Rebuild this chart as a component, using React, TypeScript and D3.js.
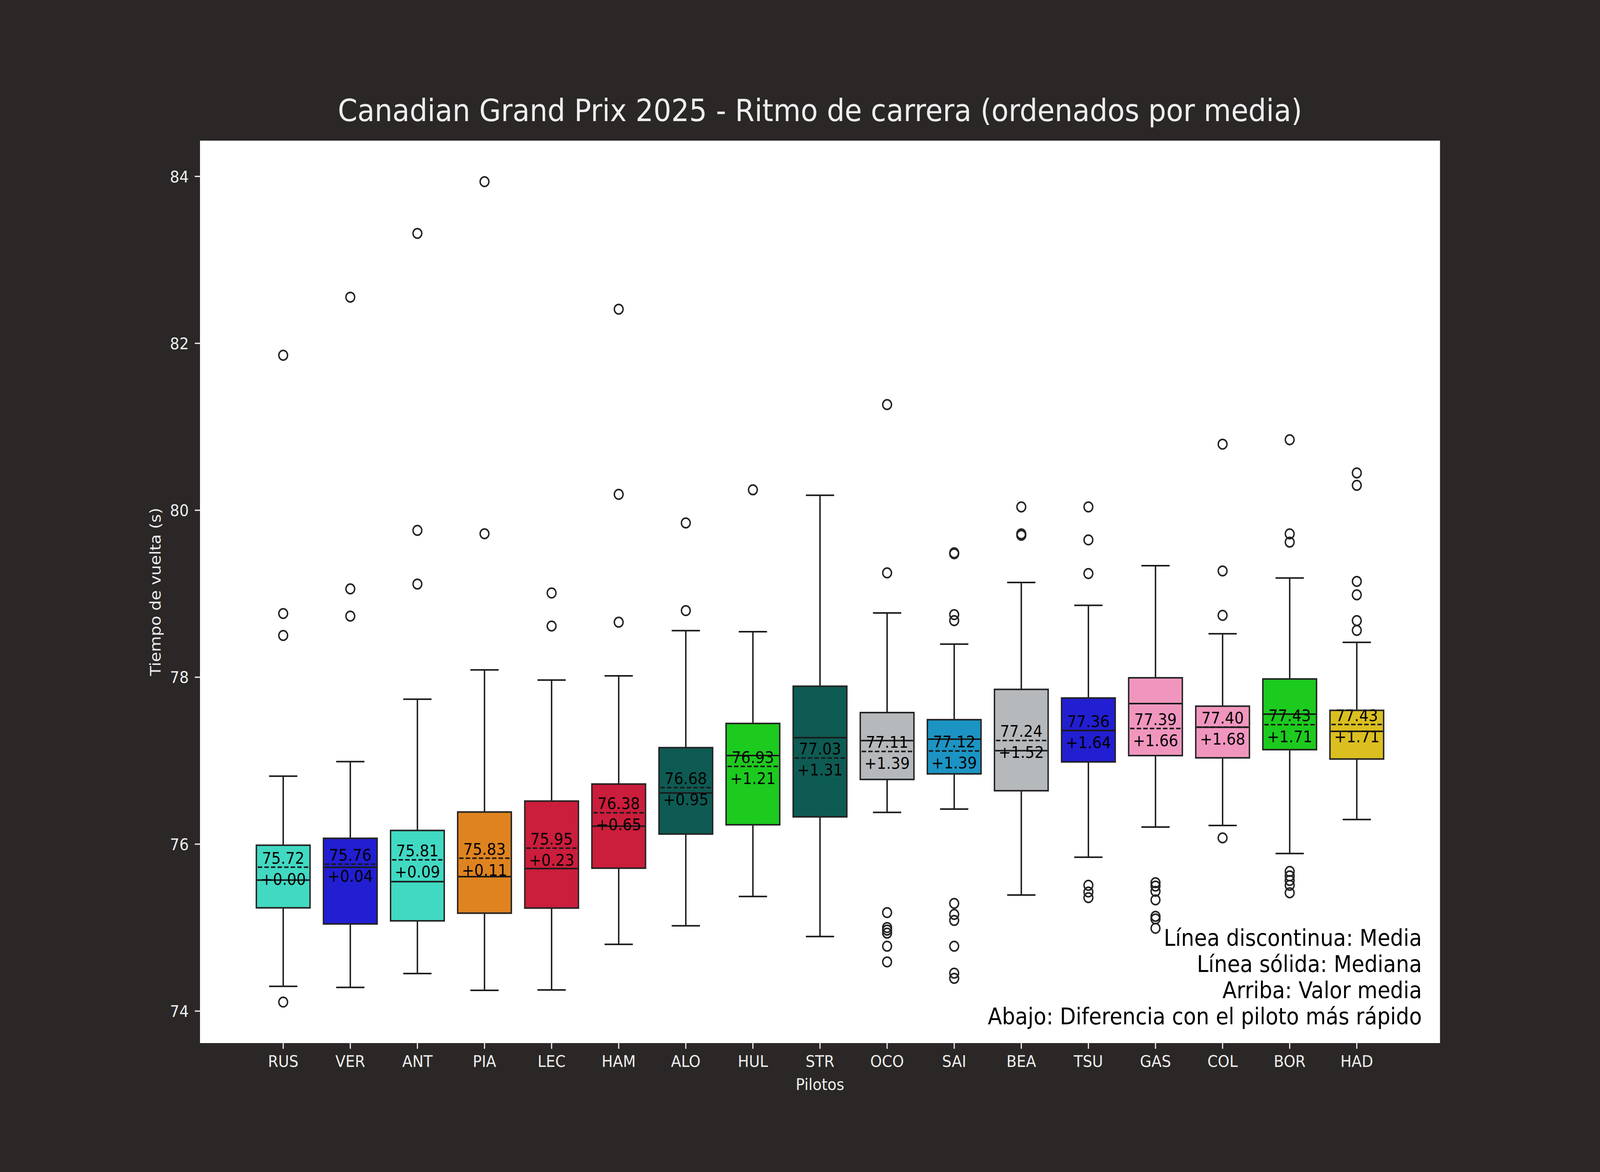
import * as d3 from "d3"

// Pilotos ordenados por media
const pilotos = ["RUS", "VER", "ANT", "PIA", "LEC", "HAM", "ALO", "HUL", "STR", "OCO", "SAI", "BEA", "TSU", "GAS", "COL", "BOR", "HAD"]

const colores = [
  "#41d9c2", "#221ed1", "#41d9c2", "#df8320", "#cb1d3c", "#cb1d3c", "#0e5b53", "#1dca1e", "#0e5b53",
  "#b6b9bc", "#1c94c3", "#b6b9bc", "#221ed1", "#f096be", "#f096be", "#1dca1e", "#dbbf20",
]

const q1 = [75.237, 75.044, 75.081, 75.173, 75.234, 75.712, 76.121, 76.232, 76.327, 76.775, 76.842, 76.64, 76.985, 77.061, 77.034, 77.132, 77.02]
const q3 = [75.987, 76.07, 76.164, 76.385, 76.516, 76.72, 77.156, 77.446, 77.892, 77.576, 77.491, 77.854, 77.751, 77.993, 77.653, 77.979, 77.603]
const medianas = [75.57, 75.723, 75.551, 75.61, 75.707, 76.215, 76.613, 77.061, 77.276, 77.24, 77.258, 77.12, 77.361, 77.684, 77.401, 77.558, 77.352]
const medias = [75.724, 75.76, 75.812, 75.832, 75.952, 76.376, 76.677, 76.932, 77.032, 77.111, 77.116, 77.242, 77.362, 77.386, 77.402, 77.431, 77.433]
const bigoteBajo = [74.296, 74.283, 74.45, 74.248, 74.253, 74.8, 75.022, 75.373, 74.893, 76.38, 76.42, 75.39, 75.843, 76.205, 76.223, 75.888, 76.295]
const bigoteAlto = [76.815, 76.989, 77.736, 78.087, 77.966, 78.016, 78.558, 78.545, 80.18, 78.77, 78.396, 79.135, 78.861, 79.336, 78.521, 79.189, 78.417]
const atipicos = [
  [74.108, 78.5, 78.763, 81.857],
  [78.732, 79.058, 82.553],
  [79.116, 79.759, 83.317],
  [79.719, 83.937],
  [78.613, 79.009],
  [78.659, 80.191, 82.409],
  [78.798, 79.848],
  [80.245],
  [],
  [74.589, 74.777, 74.934, 74.97, 75.001, 75.18, 79.25, 81.266],
  [74.392, 74.454, 74.777, 75.086, 75.158, 75.29, 78.678, 78.75, 79.479, 79.49],
  [79.7, 79.717, 80.04],
  [75.359, 75.427, 75.507, 79.242, 79.645, 80.04],
  [74.992, 75.104, 75.135, 75.332, 75.435, 75.498, 75.538],
  [76.075, 78.741, 79.273, 80.792],
  [75.417, 75.507, 75.565, 75.619, 75.673, 79.618, 79.717, 80.845],
  [78.561, 78.678, 78.987, 79.148, 80.299, 80.447],
]

const notas = [
  "Línea discontinua: Media",
  "Línea sólida: Mediana",
  "Arriba: Valor media",
  "Abajo: Diferencia con el piloto más rápido",
]

const W = 4500
const H = 3000
const margin = { top: 360, right: 450, bottom: 330, left: 562.5 }
const FONT = "DejaVu Sans"
const FONDO = "#2a2726"
const CLARO = "#eeeeee"
const LINEA = "#1a1a1a"

export default function App() {
  const n = pilotos.length
  const anchoCaja = 0.8
  const span = n - 1 + anchoCaja
  const padX = 0.05 * span
  const x = d3
    .scaleLinear()
    .domain([-anchoCaja / 2 - padX, n - 1 + anchoCaja / 2 + padX])
    .range([margin.left, W - margin.right])

  const todos = [...bigoteBajo, ...bigoteAlto, ...atipicos.flat()]
  const [minV, maxV] = d3.extent(todos) as [number, number]
  const padY = 0.05 * (maxV - minV)
  const y = d3
    .scaleLinear()
    .domain([minV - padY, maxV + padY])
    .range([H - margin.bottom, margin.top])

  const unidad = x(1) - x(0)
  const bw = anchoCaja * unidad
  const capW = 0.4 * unidad
  const mejor = d3.min(medias) as number

  return (
    <svg
      width="100vw"
      height="100vh"
      viewBox={`0 0 ${W} ${H}`}
      preserveAspectRatio="none"
      style={{ position: "fixed", left: 0, top: 0, display: "block", background: FONDO }}
      fontFamily={FONT}
    >
      <rect x={0} y={0} width={W} height={H} fill={FONDO} />
      <rect x={margin.left} y={margin.top} width={W - margin.left - margin.right} height={H - margin.top - margin.bottom} fill="#ffffff" />

      {/* Título */}
      <text x={(margin.left + W - margin.right) / 2} y={310} textAnchor="middle" fontSize={79} fill={CLARO}>
        Canadian Grand Prix 2025 - Ritmo de carrera (ordenados por media)
      </text>

      {/* Eje Y */}
      {y.ticks(6).map((t) => (
        <g key={t}>
          <line x1={margin.left - 14.6} x2={margin.left} y1={y(t)} y2={y(t)} stroke={CLARO} strokeWidth={3.3} />
          <text x={531} y={y(t) + 15} textAnchor="end" fontSize={41.7} fill={CLARO}>
            {t}
          </text>
        </g>
      ))}
      <text
        transform={`translate(451,${(margin.top + H - margin.bottom) / 2}) rotate(-90)`}
        textAnchor="middle"
        fontSize={41.7}
        fill={CLARO}
      >
        Tiempo de vuelta (s)
      </text>

      {/* Eje X */}
      {pilotos.map((p, i) => (
        <g key={p}>
          <line x1={x(i)} x2={x(i)} y1={H - margin.bottom} y2={H - margin.bottom + 14.6} stroke={CLARO} strokeWidth={3.3} />
          <text x={x(i)} y={2731} textAnchor="middle" fontSize={41.7} fill={CLARO}>
            {p}
          </text>
        </g>
      ))}
      <text x={(margin.left + W - margin.right) / 2} y={2790} textAnchor="middle" fontSize={41.7} fill={CLARO}>
        Pilotos
      </text>

      {/* Cajas */}
      {pilotos.map((p, i) => {
        const cx = x(i)
        const l = cx - bw / 2
        const r = cx + bw / 2
        const ym = y(medias[i])
        return (
          <g key={p}>
            <line x1={cx} x2={cx} y1={y(q3[i])} y2={y(bigoteAlto[i])} stroke={LINEA} strokeWidth={4} />
            <line x1={cx} x2={cx} y1={y(q1[i])} y2={y(bigoteBajo[i])} stroke={LINEA} strokeWidth={4} />
            <line x1={cx - capW / 2} x2={cx + capW / 2} y1={y(bigoteAlto[i])} y2={y(bigoteAlto[i])} stroke={LINEA} strokeWidth={4} strokeLinecap="square" />
            <line x1={cx - capW / 2} x2={cx + capW / 2} y1={y(bigoteBajo[i])} y2={y(bigoteBajo[i])} stroke={LINEA} strokeWidth={4} strokeLinecap="square" />
            <rect x={l} y={y(q3[i])} width={bw} height={y(q1[i]) - y(q3[i])} fill={colores[i]} stroke="#232323" strokeWidth={4} />
            <line x1={l + 2} x2={r - 2} y1={y(medianas[i])} y2={y(medianas[i])} stroke={LINEA} strokeWidth={4} />
            <line x1={l + 4} x2={r - 2} y1={ym} y2={ym} stroke={LINEA} strokeWidth={4} strokeDasharray="12.5 6" />
            {atipicos[i].map((v, k) => (
              <circle key={k} cx={cx} cy={y(v)} r={12.3} fill="none" stroke="#232323" strokeWidth={4} />
            ))}
            <text x={cx} y={ym - 9} textAnchor="middle" fontSize={41.7} fill="#000000">
              {medias[i].toFixed(2)}
            </text>
            <text x={cx} y={ym + 45} textAnchor="middle" fontSize={41.7} fill="#000000">
              {"+" + (medias[i] - mejor).toFixed(2)}
            </text>
          </g>
        )
      })}

      {/* Notas */}
      {notas.map((t, k) => (
        <text key={k} x={3999} y={2421 + k * 66.9} textAnchor="end" fontSize={58.3} fill="#000000">
          {t}
        </text>
      ))}
    </svg>
  )
}
